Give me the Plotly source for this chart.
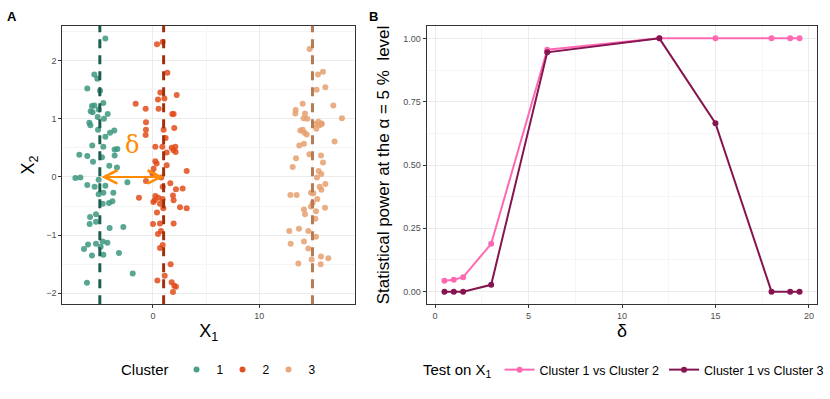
import plotly.graph_objects as go

# ---------------- data: panel A ----------------
cluster_centers = [-5, 1, 15]
cluster_names = ["1", "2", "3"]

c1_x = [-4.48, -5.52, -5.24, -6.18, -4.98, -4.67, -5.52, -5.74, -5.86, -5.11, -5.68, -4.26, -5.2, -4.61,
        -5.99, -5.89, -5.17, -3.64, -4.04, -4.48, -5.71, -4.67, -3.35, -3.61, -6.93, -6.18, -3.61, -5.64,
        -4.8, -4.11, -3.39, -7.3, -6.83, -5.11, -6.18, -5.49, -4.48, -2.41, -5.11, -4.67, -3.73, -4.14,
        -3.82, -4.73, -5.36, -5.92, -5.36, -5.96, -4.08, -2.79, -4.73, -4.29, -5.36, -6.11, -6.49, -4.92,
        -3.2, -5.74, -4.67, -1.91, -6.21]
c1_y = [2.38, 1.76, 1.69, 1.52, 1.48, 1.27, 1.23, 1.22, 1.13, 1.16, 1.11, 1.08, 1.03, 1.0,
        0.93, 0.89, 0.81, 0.80, 0.76, 0.69, 0.54, 0.52, 0.48, 0.47, 0.38, 0.36, 0.37, 0.26,
        0.34, 0.19, 0.16, -0.02, -0.01, -0.05, -0.14, -0.17, -0.15, -0.09, -0.30, -0.27, -0.27, -0.45,
        -0.42, -0.46, -0.64, -0.69, -0.77, -0.81, -0.88, -0.86, -1.11, -1.13, -1.15, -1.16, -1.24, -1.20,
        -1.31, -1.35, -1.34, -1.66, -1.82]

c2_x = [0.38, 0.91, 1.35, 0.69, 2.23, -1.63, 0.47, 1.07, -0.69, 0.53, 1.82, 1.94, -0.66, -0.66, 1.0,
        2.0, -0.69, 1.19, 0.22, 0.88, 1.76, 2.1, 1.94, 2.13, 1.29, 0.22, 0.34, 1.29, 0.06, 3.17, -0.06,
        0.78, -0.66, 1.63, 0.91, 2.16, 2.79, 0.22, 0.5, -1.32, 0.16, 0.91, 1.88, 0.03, 1.94, 0.66, 2.54,
        3.17, 0.38, 0.97, 0.0, 0.66, 1.94, 0.47, 0.75, 0.91, 0.66, 1.66, 0.41, 1.10, 1.76, 2.0, 2.16, 1.88]
c2_y = [2.28, 2.32, 1.79, 1.45, 1.41, 1.26, 1.33, 1.35, 1.17, 1.17, 1.08, 1.08, 0.94, 0.81, 0.81,
        0.84, 0.72, 0.67, 0.52, 0.52, 0.50, 0.52, 0.46, 0.43, 0.42, 0.27, 0.23, 0.20, 0.14, 0.10, 0.06,
        -0.01, -0.07, -0.11, -0.17, -0.21, -0.20, -0.33, -0.36, -0.36, -0.40, -0.38, -0.32, -0.43, -0.40, -0.46, -0.52,
        -0.54, -0.61, -0.54, -0.81, -0.80, -0.80, -0.98, -0.93, -1.17, -1.22, -1.50, -1.78, -1.70, -1.81, -1.87, -1.89, -1.98]

c3_x = [14.73, 15.99, 15.52, 16.21, 15.39, 16.96, 14.08, 13.42, 13.39, 14.3, 17.77, 14.17, 14.51, 15.55,
        15.86, 15.24, 15.67, 15.86, 13.86, 14.08, 15.36, 14.24, 14.46, 17.08, 14.2, 13.76, 14.71, 15.8,
        13.45, 15.99, 13.14, 15.58, 15.83, 15.42, 16.21, 15.67, 15.83, 15.08, 12.92, 13.51, 14.86, 15.45,
        15.02, 14.86, 14.2, 15.33, 16.18, 14.3, 15.27, 12.82, 13.73, 14.61, 15.33, 14.2, 12.95, 14.61,
        15.8, 16.49, 14.92, 13.67, 15.77]
c3_y = [2.20, 1.81, 1.76, 1.54, 1.50, 1.23, 1.26, 1.15, 1.09, 1.09, 1.01, 1.01, 1.0, 0.95,
        0.92, 0.91, 0.89, 0.91, 0.80, 0.81, 0.83, 0.76, 0.73, 0.61, 0.57, 0.54, 0.39, 0.37,
        0.32, 0.25, 0.17, 0.10, 0.05, -0.01, -0.12, -0.17, -0.22, -0.28, -0.31, -0.31, -0.27, -0.38,
        -0.45, -0.51, -0.56, -0.59, -0.53, -0.64, -0.72, -0.93, -0.89, -0.93, -1.03, -1.11, -1.15, -1.23,
        -1.37, -1.40, -1.42, -1.49, -1.50]

# ---------------- data: panel B ----------------
delta_values = [0.5, 1, 1.5, 3, 6, 12, 15, 18, 19, 19.5]
power_c1_c2 = [0.043, 0.047, 0.057, 0.189, 0.955, 1.0, 1.0, 1.0, 1.0, 1.0]
power_c1_c3 = [0.0, 0.0, 0.0, 0.027, 0.945, 1.0, 0.665, 0.0, 0.0, 0.0]
series_names = ["Cluster 1 vs Cluster 2", "Cluster 1 vs Cluster 3"]

# ---------------- styles ----------------
point_colors = ["rgba(60,150,128,0.85)", "rgba(226,76,26,0.85)", "rgba(230,160,110,0.85)"]
legend_colors = ["#4a9e8a", "#e0531f", "#e6a77a"]
line_colors = ["#1d5e4f", "#a3300c", "#b57b55"]
power_colors = ["#ff69b4", "#851450"]
FONT = "Liberation Sans, Arial, sans-serif"

xs = [c1_x, c2_x, c3_x]
ys = [c1_y, c2_y, c3_y]

fig = go.Figure()

for i in range(3):
    fig.add_trace(go.Scatter(
        x=xs[i], y=ys[i], mode="markers", name=cluster_names[i],
        marker=dict(size=6, color=point_colors[i], line=dict(width=0)),
        xaxis="x", yaxis="y", legend="legend", showlegend=False, hoverinfo="skip"))
# legend-only entries with opaque colour
for i in range(3):
    fig.add_trace(go.Scatter(
        x=[None], y=[None], mode="markers", name=cluster_names[i],
        marker=dict(size=6, color=legend_colors[i]),
        xaxis="x", yaxis="y", legend="legend", showlegend=True))

for i, c in enumerate(cluster_centers):
    fig.add_shape(type="line", xref="x", yref="y domain", x0=c, x1=c, y0=0, y1=1,
                  line=dict(color=line_colors[i], width=3, dash="9px,7px"), layer="above")

fig.add_annotation(x=cluster_centers[1], y=0, ax=cluster_centers[0], ay=0,
                   xref="x", yref="y", axref="x", ayref="y", text="",
                   showarrow=True, arrowside="end+start", arrowhead=5, startarrowhead=5,
                   arrowsize=1.3, startarrowsize=1.3, arrowwidth=2, arrowcolor="#ff8c00")
fig.add_annotation(x=(cluster_centers[0] + cluster_centers[1]) / 2, y=0.55, xref="x", yref="y",
                   text="δ", showarrow=False, font=dict(size=24, color="#ff8c00", family="DejaVu Serif"))

for j in range(2):
    fig.add_trace(go.Scatter(
        x=delta_values, y=[power_c1_c2, power_c1_c3][j], mode="lines+markers", name=series_names[j],
        line=dict(color=power_colors[j], width=2), marker=dict(size=6, color=power_colors[j]),
        xaxis="x2", yaxis="y2", legend="legend2"))

axis_common = dict(showline=True, mirror=True, linecolor="#333333", linewidth=1,
                   gridcolor="#ebebeb", gridwidth=1, zeroline=False, automargin=False,
                   ticks="outside", ticklen=3, tickcolor="#333333",
                   tickfont=dict(size=9, color="#4d4d4d", family=FONT))
minor_common = dict(showgrid=True, gridcolor="#f5f5f5", gridwidth=0.6, ticks="")

ydom = [1 - 304.3 / 399, 1 - 25.7 / 399]
fig.update_layout(
    width=830, height=399, margin=dict(l=0, r=0, t=0, b=0, autoexpand=False),
    paper_bgcolor="white", plot_bgcolor="white",
    font=dict(family=FONT, color="black"),
    xaxis=dict(domain=[62.3 / 830, 355 / 830], range=[-8.53, 19.0], tickvals=[0, 10],
               minor=dict(tickvals=[-5, 5, 15], **minor_common),
               title=dict(text="X<sub>1</sub>", font=dict(size=18), standoff=4), **axis_common),
    yaxis=dict(domain=ydom, range=[-2.19, 2.60], tickvals=[-2, -1, 0, 1, 2], ticktext=["−2", "−1", "0", "1", "2"],
               minor=dict(tickvals=[-1.5, -0.5, 0.5, 1.5, 2.5], **minor_common),
               title=dict(text="X<sub>2</sub>", font=dict(size=18), standoff=6), **axis_common),
    xaxis2=dict(domain=[426.7 / 830, 817.3 / 830], range=[-0.45, 20.45], tickvals=[0, 5, 10, 15, 20],
                minor=dict(tickvals=[2.5, 7.5, 12.5, 17.5], **minor_common),
                title=dict(text="δ", font=dict(size=18), standoff=0), anchor="y2", **axis_common),
    yaxis2=dict(domain=ydom, range=[-0.05, 1.05], tickvals=[0, 0.25, 0.5, 0.75, 1.0],
                ticktext=["0.00", "0.25", "0.50", "0.75", "1.00"],
                minor=dict(tickvals=[0.125, 0.375, 0.625, 0.875], **minor_common),
                title=dict(text="Statistical power at the α = 5 %  level", font=dict(size=17), standoff=9),
                anchor="x2", **axis_common),
    legend=dict(orientation="h", x=119 / 830, xanchor="left", y=1 - 370 / 399, yanchor="middle",
                title=dict(text="Cluster", side="left", font=dict(size=15)),
                font=dict(size=12), itemwidth=30, entrywidth=1, bgcolor="rgba(0,0,0,0)"),
    legend2=dict(orientation="h", x=421 / 830, xanchor="left", y=1 - 370 / 399, yanchor="middle",
                 title=dict(text="Test on X<sub>1</sub>", side="left", font=dict(size=15)),
                 font=dict(size=12.5), itemwidth=30, bgcolor="rgba(0,0,0,0)"),
)

fig.add_annotation(x=12 / 830, y=1 - 17 / 399, xref="paper", yref="paper", text="<b>A</b>",
                   showarrow=False, font=dict(size=13), xanchor="center", yanchor="middle")
fig.add_annotation(x=373 / 830, y=1 - 17 / 399, xref="paper", yref="paper", text="<b>B</b>",
                   showarrow=False, font=dict(size=13), xanchor="center", yanchor="middle")

fig.write_html("out.html", config={"displayModeBar": False},
               post_script="document.body.style.margin='0';document.body.style.overflow='hidden';")
